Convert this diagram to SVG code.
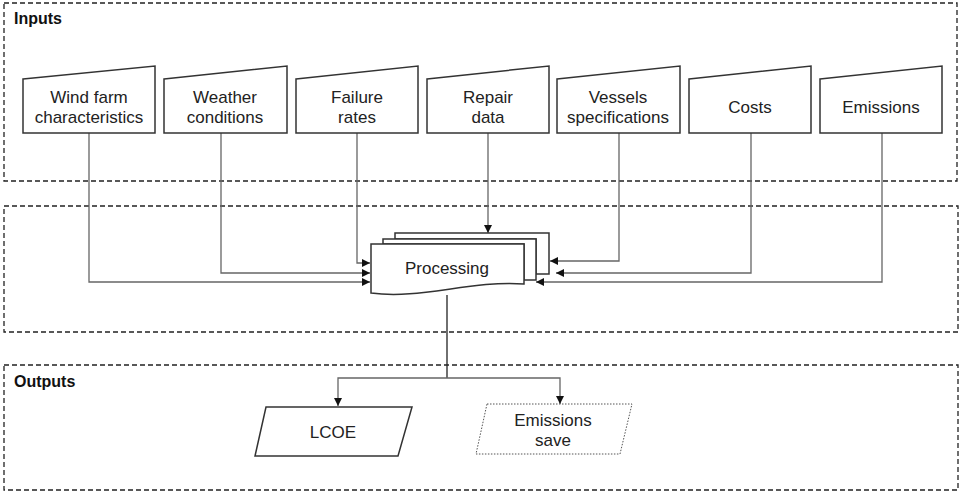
<svg xmlns="http://www.w3.org/2000/svg" width="960" height="493" viewBox="0 0 960 493">
  <style>
    .panel { fill: none; stroke: #222; stroke-width: 1.3; stroke-dasharray: 5 3; }
    .title { font-family: "Liberation Sans", Arial, sans-serif; font-size: 16px; font-weight: bold; fill: #111; }
    .box { fill: #fff; stroke: #333; stroke-width: 1.5; }
    .dotbox { fill: #fff; stroke: #555; stroke-width: 1; stroke-dasharray: 1.5 1.5; }
    .lbl { font-family: "Liberation Sans", Arial, sans-serif; font-size: 17px; fill: #222; text-anchor: middle; }
    .wire { fill: none; stroke: #666; stroke-width: 1.3; }
    .wire-dark { fill: none; stroke: #222; stroke-width: 1.3; }
  </style>
  <defs>
    <marker id="arrow" viewBox="0 0 10 10" refX="10" refY="5" markerWidth="8" markerHeight="8" markerUnits="userSpaceOnUse" orient="auto">
      <path d="M0,0 L10,5 L0,10 Z" fill="#111"/>
    </marker>
  </defs>
  <rect width="960" height="493" fill="#fff"/>

  <!-- section frames -->
  <g id="panels">
    <rect class="panel" x="4" y="3" width="953" height="178"/>
    <rect class="panel" x="4" y="206" width="954" height="126"/>
    <rect class="panel" x="4" y="365" width="954" height="125"/>
    <text class="title" x="14" y="24">Inputs</text>
    <text class="title" x="14" y="387">Outputs</text>
  </g>

  <!-- connectors -->
  <g id="connectors">
    <path class="wire" d="M89,133 V282 H370" marker-end="url(#arrow)"/>
    <path class="wire" d="M221,133 V273 H370" marker-end="url(#arrow)"/>
    <path class="wire" d="M357,133 V263 H370" marker-end="url(#arrow)"/>
    <path class="wire" d="M488,133 V233" marker-end="url(#arrow)"/>
    <path class="wire" d="M619,133 V261 H550" marker-end="url(#arrow)"/>
    <path class="wire" d="M751,133 V273 H556" marker-end="url(#arrow)"/>
    <path class="wire" d="M882,133 V282 H536" marker-end="url(#arrow)"/>
    <path class="wire-dark" d="M447,295 V378"/>
    <path class="wire" d="M447,378 H338 V406" marker-end="url(#arrow)"/>
    <path class="wire" d="M447,378 H560 V404" marker-end="url(#arrow)"/>
  </g>

  <!-- input nodes: manual-input shapes -->
  <g id="wind-farm">
    <path class="box" d="M23,79 L155,66 V133 H23 Z"/>
    <text class="lbl" x="89" y="103">Wind farm</text>
    <text class="lbl" x="89" y="123">characteristics</text>
  </g>
  <g id="weather">
    <path class="box" d="M164,79 L287,66 V133 H164 Z"/>
    <text class="lbl" x="225" y="103">Weather</text>
    <text class="lbl" x="225" y="123">conditions</text>
  </g>
  <g id="failure">
    <path class="box" d="M296,79 L418,66 V133 H296 Z"/>
    <text class="lbl" x="357" y="103">Failure</text>
    <text class="lbl" x="357" y="123">rates</text>
  </g>
  <g id="repair">
    <path class="box" d="M427,79 L549,66 V133 H427 Z"/>
    <text class="lbl" x="488" y="103">Repair</text>
    <text class="lbl" x="488" y="123">data</text>
  </g>
  <g id="vessels">
    <path class="box" d="M557,79 L680,66 V133 H557 Z"/>
    <text class="lbl" x="618" y="103">Vessels</text>
    <text class="lbl" x="618" y="123">specifications</text>
  </g>
  <g id="costs">
    <path class="box" d="M689,79 L811,66 V133 H689 Z"/>
    <text class="lbl" x="750" y="113">Costs</text>
  </g>
  <g id="emissions">
    <path class="box" d="M820,79 L942,66 V133 H820 Z"/>
    <text class="lbl" x="881" y="113">Emissions</text>
  </g>

  <!-- processing: stacked documents -->
  <g id="processing">
    <path class="box" d="M395,233 H549 V274 H536 V239 H395 Z"/>
    <path class="box" d="M383,239 H536 V280 H524 V244 H383 Z"/>
    <path class="box" d="M371,244 H524 V284 C470,280 420,300 371,293 Z"/>
    <text class="lbl" x="447" y="274">Processing</text>
  </g>

  <!-- output nodes -->
  <g id="lcoe">
    <path class="box" d="M266,407 H412 L398,456 H255 Z"/>
    <text class="lbl" x="333" y="438">LCOE</text>
  </g>
  <g id="emissions-save">
    <path class="dotbox" d="M487,404 H632 L620,454 H476 Z"/>
    <text class="lbl" x="553" y="426">Emissions</text>
    <text class="lbl" x="553" y="446">save</text>
  </g>
</svg>
